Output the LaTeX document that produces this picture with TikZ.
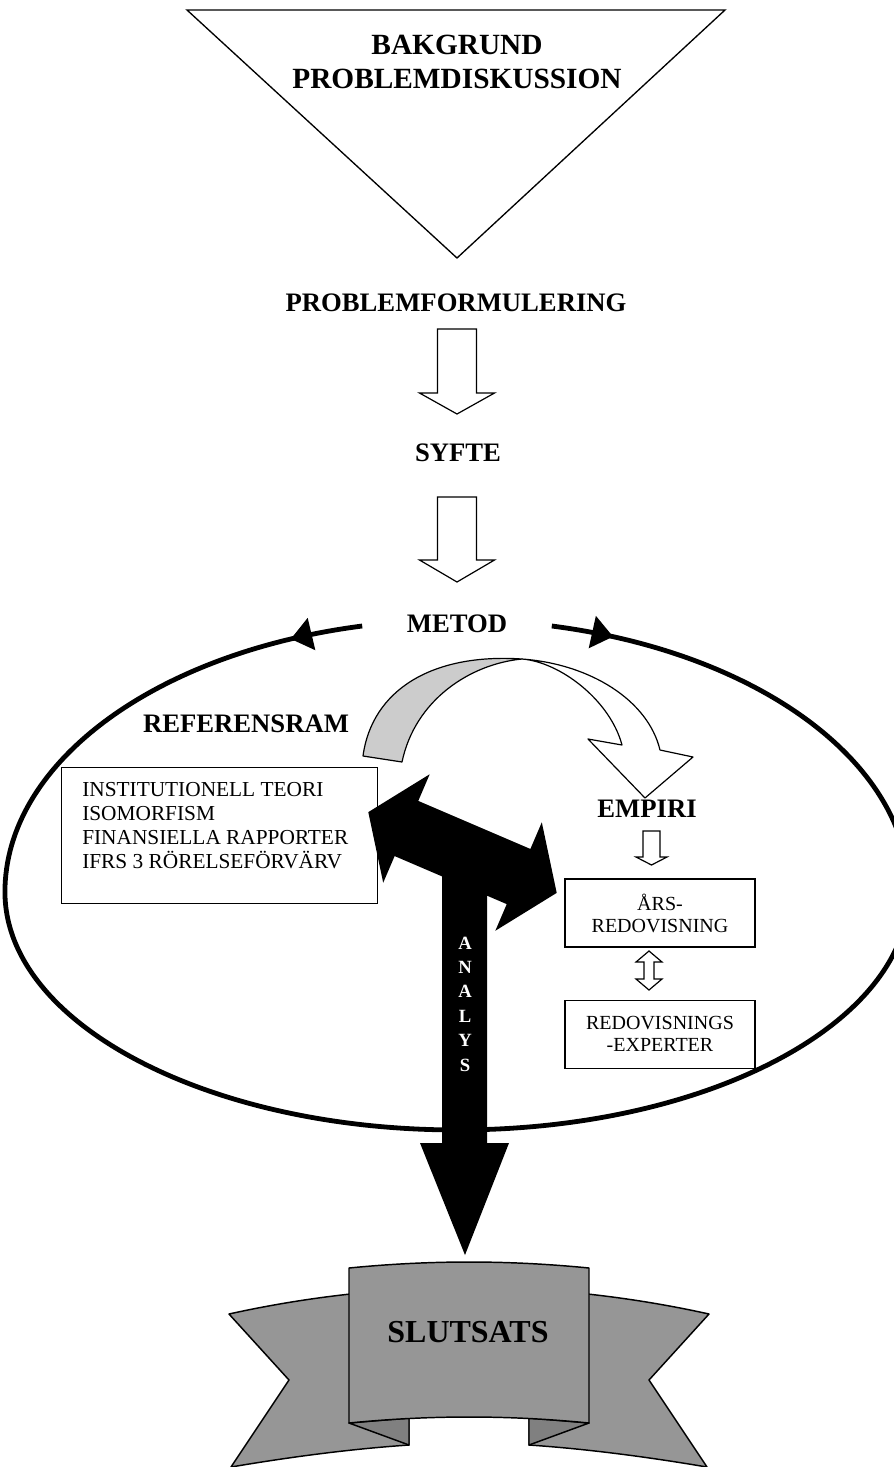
\documentclass[tikz,border=0pt]{standalone}
\usepackage{fontspec}
\setmainfont{Liberation Serif}
\usetikzlibrary{calc,positioning,arrows.meta,decorations.markings}

\definecolor{bandgray}{RGB}{204,204,204}
\definecolor{ribbongray}{RGB}{150,150,150}
\definecolor{foldgray}{RGB}{128,128,128}

% hollow block arrows: start, tip, half shaft, half head, head length
\newcommand{\hollowdown}[5]{%
	\draw[hollow] ($(#1)+(-#3,0)$) -- ($(#1)+(#3,0)$) -- ($(#2)+(#3,-#5)$) -- ($(#2)+(#4,-#5)$)
	-- (#2) -- ($(#2)+(-#4,-#5)$) -- ($(#2)+(-#3,-#5)$) -- cycle;}
\newcommand{\hollowboth}[5]{%
	\draw[hollow] (#1) -- ($(#1)+(#4,#5)$) -- ($(#1)+(#3,#5)$) -- ($(#2)+(#3,-#5)$) -- ($(#2)+(#4,-#5)$)
	-- (#2) -- ($(#2)+(-#4,-#5)$) -- ($(#2)+(-#3,-#5)$) -- ($(#1)+(-#3,#5)$) -- ($(#1)+(-#4,#5)$) -- cycle;}

\tikzset{ring/.style={line width=3.6pt, postaction={decorate,
	decoration={markings, mark=at position #1 with {\arrow{Triangle[length=16pt,width=24pt]}}}}}}

\begin{document}
\begin{tikzpicture}[x=0.75pt,y=-0.75pt]
	\tikzstyle{every node}=[inner sep=0pt]
	\tikzstyle{heading}=[font=\fontsize{20}{24}\selectfont\bfseries]
	\tikzstyle{bigheading}=[font=\fontsize{22}{25}\selectfont\bfseries, align=center]
	\tikzstyle{outline}=[draw, line width=1pt]
	\tikzstyle{hollow}=[draw, fill=white, line width=0.9pt]
	\tikzstyle{smallbox}=[draw, line width=1pt, fill=white, minimum width=142.5pt, minimum height=51pt, align=center, font=\fontsize{15}{16.5}\selectfont]
	\tikzstyle{ribbon}=[draw, line width=1.1pt, fill=ribbongray, line join=round]

	\useasboundingbox (0,0) rectangle (893,1467);

	% background and question
	\draw[outline] (187,10) -- (725,10) -- (457,258) -- cycle;
	\node[bigheading] (bak) at (457,62) {BAKGRUND\\PROBLEMDISKUSSION};
	\node[heading] (pf) at (456,303) {PROBLEMFORMULERING};
	\node[heading] (syfte) at (458,453) {SYFTE};
	\node[heading] (metod) at (457,624) {METOD};

	\coordinate (pf out) at (457,329);
	\coordinate (syfte in) at (457,414);
	\coordinate (syfte out) at (457,497);
	\coordinate (metod in) at (457,582);
	\hollowdown{pf out}{syfte in}{19.5}{37.5}{21}
	\hollowdown{syfte out}{metod in}{19.5}{37.5}{22}

	% method loop
	\coordinate (ring r) at (551.8,626);
	\coordinate (ring l) at (362.2,626);
	\draw[ring=0.06] (ring r) arc[start angle=-77.9, end angle=0, x radius=452, y radius=272]
		arc[start angle=0, end angle=90, x radius=452, y radius=238];
	\draw[ring=0.07] (ring l) arc[start angle=-102.1, end angle=-180, x radius=452, y radius=272]
		arc[start angle=180, end angle=90, x radius=452, y radius=238];

	% theory
	\node[heading] (refram) at (246,724) {REFERENSRAM};
	\node[outline, fill=white, anchor=north west, minimum width=237pt, minimum height=102pt] (refbox) at (61,767) {};
	\node[anchor=north west, align=left, font=\fontsize{16}{18}\selectfont] (reflist) at (82,782)
		{INSTITUTIONELL TEORI\\ISOMORFISM\\FINANSIELLA RAPPORTER\\IFRS 3 RÖRELSEFÖRVÄRV};

	% empirics
	\node[heading] (empiri) at (647,809) {EMPIRI};
	\node[smallbox] (ars) at (660,913) {ÅRS-\\REDOVISNING};
	\node[smallbox, below=39pt of ars] (exp) {REDOVISNINGS\\-EXPERTER};

	\coordinate (empiri out) at (651.5,831);
	\coordinate (ars in) at (651.5,865);
	\hollowdown{empiri out}{ars in}{8.5}{15.5}{8}
	\coordinate (ars out) at (649,951);
	\coordinate (exp in) at (649,990);
	\hollowboth{ars out}{exp in}{5}{13}{11}

	% twisted arrow from theory to empirics
	\draw[line width=0.9pt, fill=bandgray, line join=round] (363,756) .. controls (372,690) and (432,653) .. (522,659)
		.. controls (470,664) and (415,700) .. (402,762) -- cycle;
	\draw[line width=0.9pt, fill=white, line join=round] (522,659) .. controls (590,664) and (648,700) .. (660,750)
		-- (693,757) -- (645,798) -- (588,739) -- (622,745) .. controls (610,700) and (560,662) .. (522,659) -- cycle;

	% analysis arrows
	\begin{scope}[shift={(462.5,852.5)}, rotate=-23.2]
		\fill (-61,-30) -- (61,-30) -- (61,-59) -- (102.5,0) -- (61,59) -- (61,30)
			-- (-61,30) -- (-61,59) -- (-102.5,0) -- (-61,-59) -- cycle;
	\end{scope}
	\coordinate (slut in) at (465,1255);
	\fill (442,853) -- (487,853) -- (487,1143) -- (509,1143) -- (slut in) -- (420,1143) -- (442,1143) -- cycle;
	\node[font=\fontsize{14}{18.3}\selectfont\bfseries, text=white, align=center] (analys) at (465,1004) {A\\N\\A\\L\\Y\\S};

	% conclusion banner
	\draw[ribbon] (229,1314) -- (289,1380) -- (231,1467) .. controls (290,1457) and (350,1449) .. (409,1445)
		-- (409,1300) -- (360,1293) .. controls (310,1298) and (265,1306) .. (229,1314) -- cycle;
	\draw[ribbon] (709,1314) -- (649,1380) -- (707,1467) .. controls (648,1457) and (588,1449) .. (529,1445)
		-- (529,1300) -- (578,1293) .. controls (628,1298) and (673,1306) .. (709,1314) -- cycle;
	\draw[ribbon, fill=foldgray] (349,1423) -- (409,1445) -- (409,1418) -- cycle;
	\draw[ribbon, fill=foldgray] (589,1423) -- (529,1445) -- (529,1418) -- cycle;
	\draw[ribbon] (349,1268) .. controls (430,1260) and (508,1260) .. (589,1268) -- (589,1423)
		.. controls (508,1415) and (430,1415) .. (349,1423) -- cycle;
	\node[font=\fontsize{24}{28}\selectfont\bfseries] (slutsats) at (468,1332) {SLUTSATS};
\end{tikzpicture}
\end{document}
